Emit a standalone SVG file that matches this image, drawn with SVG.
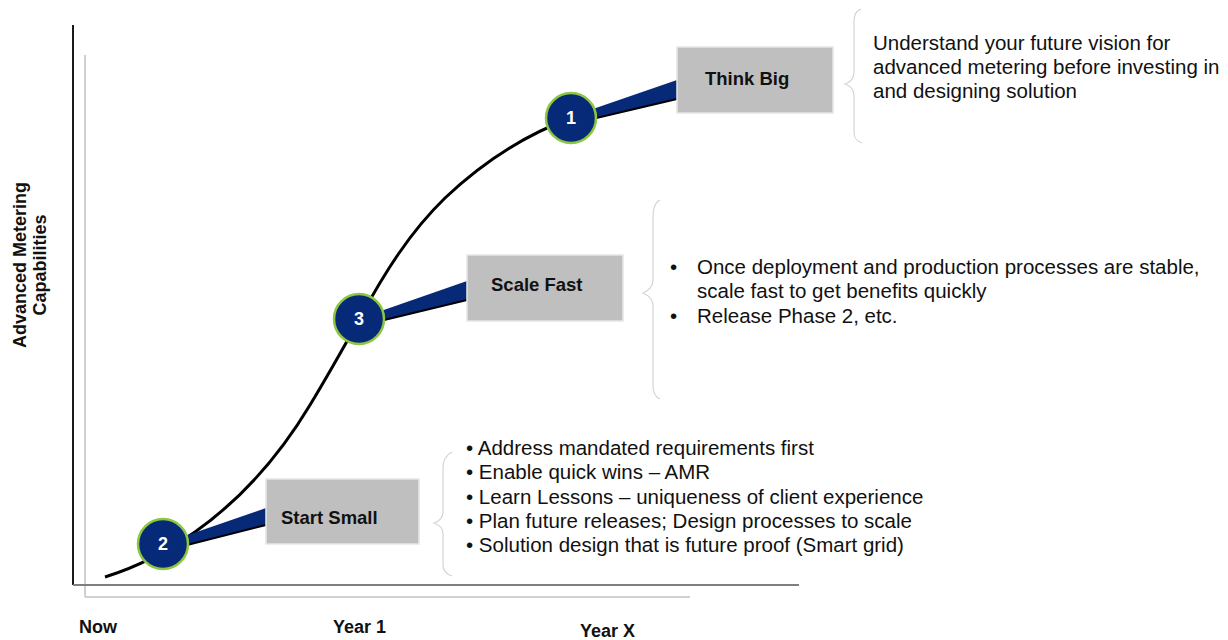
<svg xmlns="http://www.w3.org/2000/svg" width="1228" height="640" viewBox="0 0 1228 640">
<style>
.box{fill:#bfbfbf;stroke:#e6e6e6;stroke-width:1.5}
.bt{font-family:"Liberation Sans",Arial,sans-serif;font-weight:bold;font-size:18.5px;fill:#111}
.num{font-family:"Liberation Sans",Arial,sans-serif;font-weight:bold;font-size:18px;fill:#fff;text-anchor:middle}
.circ{fill:#062a78;stroke:#8dc63f;stroke-width:2.5}
.wedge{fill:#062a78;stroke:none}
.wedge-edge{fill:none;stroke:#000;stroke-width:2}
.brace{fill:none;stroke:#d4d4d4;stroke-width:1.2}
.tx{font-family:"Liberation Sans",Arial,sans-serif;font-size:20.5px;fill:#111}
.ax{font-family:"Liberation Sans",Arial,sans-serif;font-weight:bold;font-size:18px;fill:#111}
</style>
<rect width="1228" height="640" fill="#fff"/>
<g id="axes">
<line x1="85" y1="55" x2="85" y2="597" stroke="#d0d0d0" stroke-width="2"/>
<line x1="85" y1="597" x2="690" y2="597" stroke="#d0d0d0" stroke-width="2"/>
<line x1="73" y1="25" x2="73" y2="585" stroke="#1a1a1a" stroke-width="2"/>
<line x1="73" y1="585" x2="799" y2="585" stroke="#7f7f7f" stroke-width="2"/>
</g>
<g id="connectors">
<path d="M105,577 C140,566 165,552 195,532 C240,500 280,455 310,405 C330,372 345,345 360,318 C385,272 410,232 445,198 C485,160 525,135 571,118 L590,113" fill="none" stroke="#000" stroke-width="3"/>
<polygon class="wedge" points="590,110 677,80 677,99 590,120"/>
<line class="wedge-edge" x1="592" y1="119" x2="677" y2="99"/>
<polygon class="wedge" points="378,312 467,281 467,300 378,322"/>
<line class="wedge-edge" x1="380" y1="321" x2="467" y2="300"/>
<polygon class="wedge" points="185,536 266,508 266,525 185,546"/>
<line class="wedge-edge" x1="187" y1="545" x2="266" y2="525"/>
</g>
<g id="node-think-big">
<rect class="box" x="677" y="47" width="156" height="66"/>
<text class="bt" x="705" y="85">Think Big</text>
</g>
<g id="node-scale-fast">
<rect class="box" x="467" y="255" width="156" height="66"/>
<text class="bt" x="491" y="291">Scale Fast</text>
</g>
<g id="node-start-small">
<rect class="box" x="266" y="479" width="153" height="65"/>
<text class="bt" x="281" y="524">Start Small</text>
</g>
<g id="node-1">
<circle class="circ" cx="571" cy="118" r="25"/>
<text class="num" x="571" y="124">1</text>
</g>
<g id="node-3">
<circle class="circ" cx="359" cy="319" r="25"/>
<text class="num" x="359" y="325">3</text>
</g>
<g id="node-2">
<circle class="circ" cx="163" cy="544" r="25"/>
<text class="num" x="163" y="550">2</text>
</g>
<g id="braces">
<path class="brace" d="M861,9 C855,11 854,16 854,24 L854,72 C854,78 851,82 845,84 C851,86 854,90 854,96 L854,132 C854,138 856,141 862,143"/>
<path class="brace" d="M660,200 C654,203 653,210 653,220 L653,280 C653,286 650,290 643,293 C650,296 653,300 653,306 L653,385 C653,393 655,397 660,399"/>
<path class="brace" d="M452,452 C446,455 443,460 443,468 L443,512 C443,518 440,521 434,523 C440,525 443,528 443,534 L443,565 C443,571 446,574 452,576"/>
</g>
<g id="text-think-big">
<text class="tx" x="873" y="50">Understand your future vision for</text>
<text class="tx" x="873" y="74">advanced metering before investing in</text>
<text class="tx" x="873" y="98">and designing solution</text>
</g>
<g id="text-scale-fast">
<text class="tx" x="670" y="274">•</text>
<text class="tx" x="697" y="274">Once deployment  and production processes are stable,</text>
<text class="tx" x="697" y="298">scale fast to get benefits quickly</text>
<text class="tx" x="670" y="323">•</text>
<text class="tx" x="697" y="323">Release Phase 2, etc.</text>
</g>
<g id="text-start-small">
<text class="tx" x="466" y="455">• Address mandated requirements first</text>
<text class="tx" x="466" y="479">• Enable quick wins – AMR</text>
<text class="tx" x="466" y="504">• Learn Lessons – uniqueness of client experience</text>
<text class="tx" x="466" y="528">• Plan future releases; Design processes to scale</text>
<text class="tx" x="466" y="552">• Solution design that is future proof (Smart grid)</text>
</g>
<g id="axis-labels">
<text class="ax" transform="translate(26,265) rotate(-90)" text-anchor="middle">Advanced Metering</text>
<text class="ax" transform="translate(46,265) rotate(-90)" text-anchor="middle">Capabilities</text>
<text class="ax" x="79" y="633">Now</text>
<text class="ax" x="333" y="633">Year 1</text>
<text class="ax" x="580" y="637">Year X</text>
</g>
</svg>
